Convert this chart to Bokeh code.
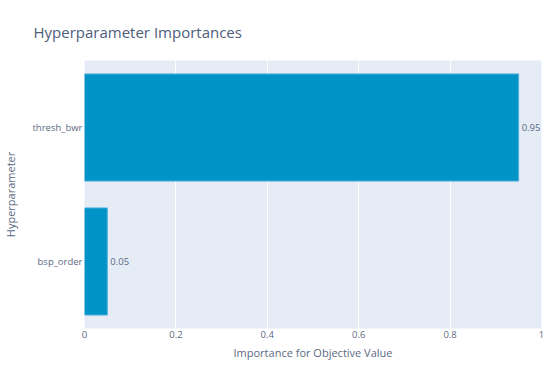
from bokeh.plotting import figure
from bokeh.models import ColumnDataSource, FactorRange, Range1d, FixedTicker, Title
from bokeh.embed import file_html
from bokeh.resources import INLINE

params = ["bsp_order", "thresh_bwr"]
importances = [0.05, 0.95]
labels = ["0.05", "0.95"]
x_ticks = [0, 0.2, 0.4, 0.6, 0.8, 1]

FONT = "Open Sans"
TXT = "#5b6a83"

src = ColumnDataSource(dict(param=params, imp=importances, lab=labels))

p = figure(frame_width=457, frame_height=268, output_backend="svg", toolbar_location=None,
           y_range=FactorRange(*params), x_range=Range1d(0, 1),
           min_border_left=84, min_border_right=9, min_border_bottom=42, min_border_top=57,
           background_fill_color="#E5ECF6", border_fill_color="white", outline_line_color=None)

p.hbar(y="param", right="imp", left=0, height=0.8, source=src,
       fill_color="#0093C8", line_color="#5ab4de", line_width=1)
p.text(x="imp", y="param", text="lab", source=src, x_offset=3,
       text_align="left", text_baseline="middle", text_font_size="9.5px",
       text_color=TXT, text_font={"value": FONT})

p.title = Title(text="Hyperparameter Importances", text_font=FONT, text_font_size="15px",
                text_font_style="normal", text_color="#4d5d7a", offset=-51, standoff=38)

p.xaxis.ticker = FixedTicker(ticks=x_ticks)
p.xaxis.major_label_overrides = {0: "0", 1: "1"}
for ax in (p.xaxis[0], p.yaxis[0]):
    ax.axis_line_color = None
    ax.major_tick_line_color = None
    ax.minor_tick_line_color = None
    ax.major_tick_out = 0
    ax.major_tick_in = 0
    ax.minor_tick_out = 0
    ax.minor_tick_in = 0
    ax.major_label_text_font = FONT
    ax.major_label_text_font_size = "9.5px"
    ax.major_label_text_color = TXT
    ax.axis_label_text_font = FONT
    ax.axis_label_text_font_size = "11px"
    ax.axis_label_text_font_style = "normal"
    ax.axis_label_text_color = TXT
p.xaxis.axis_label = "Importance for Objective Value"
p.yaxis.axis_label = "Hyperparameter"
p.xaxis.major_label_standoff = 2
p.yaxis.major_label_standoff = 2
p.xaxis.axis_label_standoff = 4
p.yaxis.axis_label_standoff = 11

p.xgrid.grid_line_color = "white"
p.xgrid.grid_line_width = 1
p.ygrid.grid_line_color = None

open("out.html", "w").write(file_html(p, INLINE))
